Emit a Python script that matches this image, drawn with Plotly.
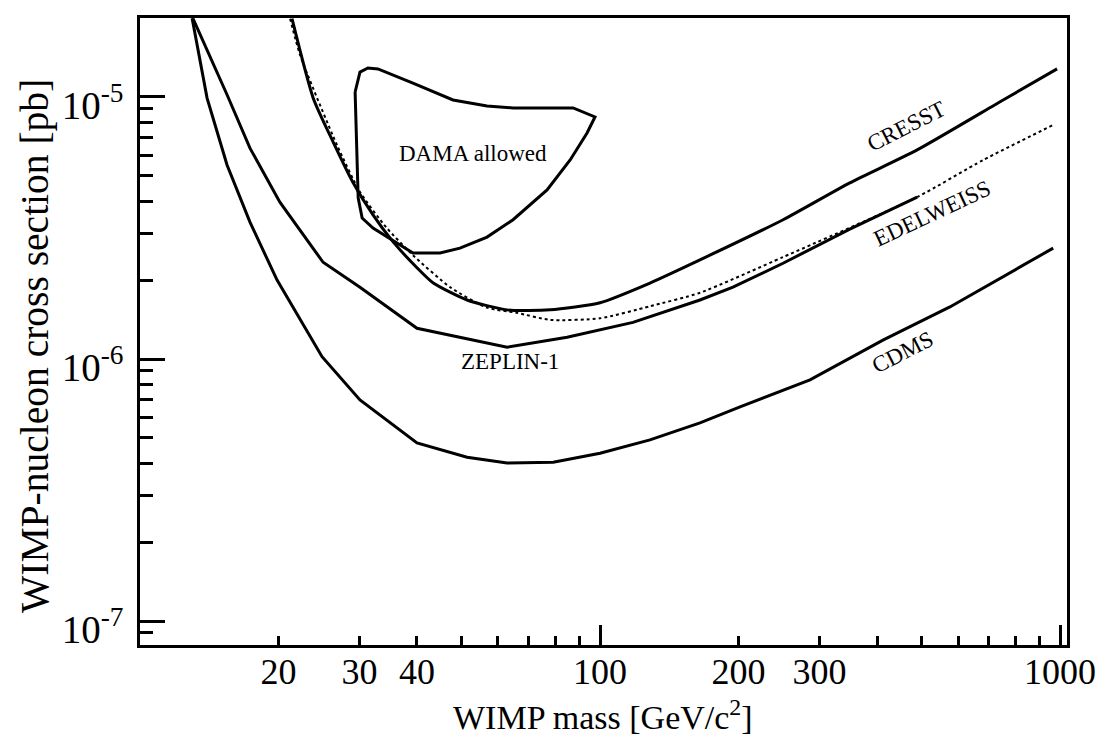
import numpy as np
import plotly.graph_objects as go

# Exclusion limits: WIMP mass [GeV/c^2] vs WIMP-nucleon cross section [pb]
cdms_mass = [12.98, 13.99, 15.46, 17.34, 19.86, 24.87, 30.07, 40.0, 51.4, 62.8,
             79.1, 100, 128.4, 164.9, 201.5, 286, 412, 576, 966]
cdms_sigma = [2.0e-5, 9.9e-6, 5.5e-6, 3.33e-6, 2.0e-6, 1.02e-6, 6.98e-7, 4.78e-7,
              4.22e-7, 4.01e-7, 4.04e-7, 4.37e-7, 4.91e-7, 5.70e-7, 6.56e-7,
              8.32e-7, 1.18e-6, 1.58e-6, 2.65e-6]

zeplin_mass = [13.04, 15.46, 17.34, 20.14, 25.0, 30.07, 40.0, 62.8, 84.8, 117.9,
               164.9, 194.5, 249.9, 349, 489]
zeplin_sigma = [1.99e-5, 1.02e-5, 6.38e-6, 3.97e-6, 2.34e-6, 1.88e-6, 1.31e-6,
                1.11e-6, 1.21e-6, 1.38e-6, 1.68e-6, 1.88e-6, 2.32e-6, 3.13e-6,
                4.15e-6]

cresst_mass = [21.4, 23.8, 26.3, 29.0, 32.1, 35.5, 40.0, 43.4, 51.4, 62.8, 77.9,
               100, 128.4, 164.9, 250, 349, 489, 752, 985]
cresst_sigma = [1.99e-5, 9.9e-6, 6.73e-6, 4.74e-6, 3.55e-6, 2.80e-6, 2.23e-6,
                1.95e-6, 1.68e-6, 1.54e-6, 1.54e-6, 1.64e-6, 1.95e-6, 2.39e-6,
                3.40e-6, 4.70e-6, 6.28e-6, 9.74e-6, 1.28e-5]

edelweiss_mass = [21.2, 22.3, 26.8, 30.07, 34.4, 39.2, 47.2, 56.8, 66.0, 77.9,
                  100, 128.4, 164.9, 250, 489, 681, 966]
edelweiss_sigma = [1.99e-5, 1.44e-5, 6.56e-6, 4.34e-6, 3.16e-6, 2.49e-6, 1.88e-6,
                   1.57e-6, 1.50e-6, 1.41e-6, 1.43e-6, 1.59e-6, 1.79e-6, 2.45e-6,
                   4.15e-6, 5.75e-6, 7.82e-6]

# DAMA allowed region (closed contour)
dama_mass = [29.35, 30.07, 31.3, 32.9, 39.2, 47.9, 56.8, 64.7, 87.4, 97.5, 93.7,
             86.1, 76.7, 64.7, 56.8, 49.6, 44.9, 39.2, 32.1, 30.4, 29.8, 29.5, 29.35]
dama_sigma = [1.045e-5, 1.245e-5, 1.29e-5, 1.28e-5, 1.13e-5, 9.74e-6, 9.24e-6,
              9.08e-6, 9.08e-6, 8.39e-6, 7.29e-6, 5.75e-6, 4.42e-6, 3.40e-6,
              2.92e-6, 2.65e-6, 2.54e-6, 2.54e-6, 3.16e-6, 3.45e-6, 4.12e-6,
              6.86e-6, 1.045e-5]

# Axis ticks
x_major = [100, 1000]
x_minor = [20, 30, 40, 50, 60, 70, 80, 90, 200, 300, 400, 500, 600, 700, 800, 900]
x_labels = [20, 30, 40, 100, 200, 300, 1000]
y_major = [1e-7, 1e-6, 1e-5]
y_major_text = ["10<sup>-7</sup>", "10<sup>-6</sup>", "10<sup>-5</sup>"]
y_minor = [9e-8] + [k * 1e-7 for k in range(2, 10)] + [k * 1e-6 for k in range(2, 10)] \
    + [2e-5]

x_title = "WIMP mass [GeV/c<sup>2</sup>]"
y_title = "WIMP-nucleon cross section [pb]"

# Curve labels: text, mass, cross section, angle
labels = [
    ("DAMA allowed", 53.0, 6.1e-6, 0),
    ("ZEPLIN-1", 63.7, 9.75e-7, 0),
    ("CRESST", 462, 7.75e-6, -27),
    ("EDELWEISS", 527, 3.6e-6, -25),
    ("CDMS", 454, 1.06e-6, -27),
]

FONT = "Liberation Serif, Times New Roman, serif"
BLACK = "#000000"

fig = go.Figure()

fig.add_trace(go.Scatter(x=cdms_mass, y=cdms_sigma, mode="lines",
                         line=dict(color=BLACK, width=3), name="CDMS"))
fig.add_trace(go.Scatter(x=zeplin_mass, y=zeplin_sigma, mode="lines",
                         line=dict(color=BLACK, width=3), name="ZEPLIN-1"))
fig.add_trace(go.Scatter(x=cresst_mass, y=cresst_sigma, mode="lines",
                         line=dict(color=BLACK, width=3, shape="spline", smoothing=0.6),
                         name="CRESST"))
fig.add_trace(go.Scatter(x=edelweiss_mass, y=edelweiss_sigma, mode="lines",
                         line=dict(color=BLACK, width=2, dash="dot", shape="spline",
                                   smoothing=0.6),
                         name="EDELWEISS"))
fig.add_trace(go.Scatter(x=dama_mass, y=dama_sigma, mode="lines", xaxis="x2",
                         line=dict(color=BLACK, width=3), name="DAMA"))

for text, m, s, ang in labels:
    fig.add_annotation(x=np.log10(m), y=np.log10(s), xref="x", yref="y",
                       text=text, showarrow=False, textangle=ang,
                       font=dict(family=FONT, size=23, color=BLACK))

# Axis titles
fig.add_annotation(x=0.4995, y=-0.1115, xref="paper", yref="paper",
                   xanchor="center", yanchor="middle", showarrow=False,
                   text=x_title, font=dict(family=FONT, size=34, color=BLACK))
fig.add_annotation(x=-0.1133, y=0.4769, xref="paper", yref="paper",
                   xanchor="center", yanchor="middle", showarrow=False,
                   textangle=-90, text=y_title,
                   font=dict(family=FONT, size=39.5, color=BLACK))

x_range = [1.0, 3.015]
y_range = [-7.0916, -4.6985]

fig.update_layout(
    width=1107, height=737,
    margin=dict(l=140, r=40, t=18, b=92),
    paper_bgcolor="white", plot_bgcolor="white",
    showlegend=False,
    font=dict(family=FONT, color=BLACK),
    xaxis=dict(
        type="log", range=x_range, showgrid=False, zeroline=False,
        showline=True, linecolor=BLACK, linewidth=2.5, mirror=True,
        ticks="inside", ticklen=20, tickwidth=2.5, tickcolor=BLACK,
        tickvals=x_major, showticklabels=False,
        minor=dict(ticks="inside", ticklen=9, tickwidth=2.5, tickcolor=BLACK,
                   tickvals=x_minor, showgrid=False),
    ),
    xaxis2=dict(
        type="log", range=x_range, overlaying="x", anchor="y", side="bottom",
        showgrid=False, zeroline=False, showline=False, ticks="",
        tickvals=x_labels, ticktext=[str(v) for v in x_labels],
        ticklabelstandoff=2,
        tickfont=dict(family=FONT, size=36, color=BLACK),
    ),
    yaxis=dict(
        type="log", range=y_range, showgrid=False, zeroline=False,
        showline=True, linecolor=BLACK, linewidth=2.5, mirror=True,
        ticks="inside", ticklen=25, tickwidth=2.5, tickcolor=BLACK,
        tickvals=y_major, ticktext=y_major_text,
        ticklabelshift=8, ticklabelstandoff=6,
        tickfont=dict(family=FONT, size=39, color=BLACK),
        minor=dict(ticks="inside", ticklen=13, tickwidth=2.5, tickcolor=BLACK,
                   tickvals=y_minor, showgrid=False),
    ),
)

fig.write_html("out.html")
